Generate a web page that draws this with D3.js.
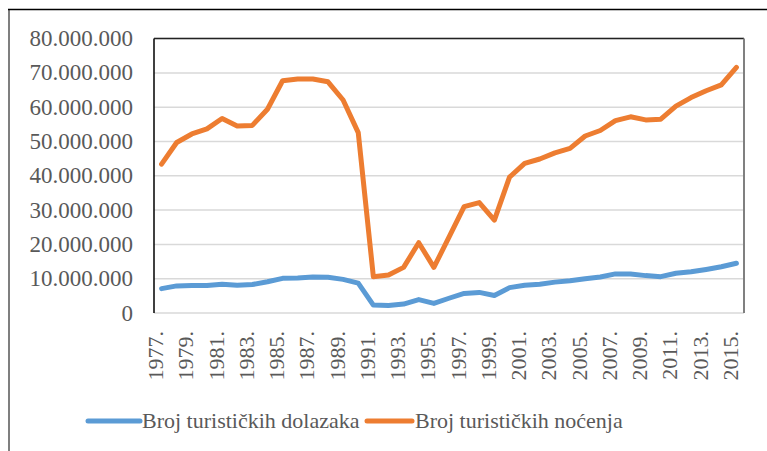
<!DOCTYPE html>
<meta charset="utf-8">
<body style="margin:0">
<script src="https://cdn.jsdelivr.net/npm/d3@7"></script>
<script>

var width = 767,
    height = 451;

var serif = "'Liberation Serif'";

var years = d3.range(1977, 2016).map(function(y) { return y + "."; });

var dolasci = [7.1, 7.9, 8.0, 8.0, 8.4, 8.1, 8.3, 9.1, 10.1, 10.2,
  10.5, 10.4, 9.8, 8.7, 2.3, 2.2, 2.6, 3.9, 2.8, 4.3,
  5.7, 6.0, 5.1, 7.4, 8.1, 8.4, 9.0, 9.4, 10.0, 10.5,
  11.4, 11.4, 10.9, 10.6, 11.6, 12.0, 12.7, 13.5, 14.5];

var nocenja = [43.4, 49.7, 52.2, 53.7, 56.7, 54.5, 54.7, 59.4, 67.7, 68.2,
  68.2, 67.4, 62.1, 52.6, 10.6, 11.1, 13.3, 20.5, 13.3, 22.1,
  31.0, 32.2, 27.1, 39.6, 43.6, 44.9, 46.7, 48.0, 51.6, 53.2,
  56.1, 57.2, 56.3, 56.5, 60.3, 62.8, 64.8, 66.5, 71.6];

var yTicks = [0, 10, 20, 30, 40, 50, 60, 70, 80];

var series = [
  {name: "Broj turističkih dolazaka", color: "#5b9bd5", values: dolasci},
  {name: "Broj turističkih noćenja", color: "#ed7d31", values: nocenja}
];

var plot = {left: 154, top: 38.6, right: 744, bottom: 313};

var x = d3.scaleBand()
    .domain(years)
    .range([plot.left, plot.right]);

var y = d3.scaleLinear()
    .domain([0, 80])
    .range([plot.bottom, plot.top]);

function fmt(v) {
  return d3.format(",")(v * 1000000).replace(/,/g, ".");
}

var svg = d3.select("body").append("svg")
    .attr("width", width)
    .attr("height", height);

// outer frame, only left and top edges show
svg.append("line")
    .attr("x1", 9).attr("x2", 9).attr("y1", 9).attr("y2", height)
    .style("stroke", "#7f7f7f").style("stroke-width", 2);
svg.append("line")
    .attr("x1", 8).attr("x2", width).attr("y1", 9.5).attr("y2", 9.5)
    .style("stroke", "#000").style("stroke-width", 1.5);

svg.append("g")
  .selectAll("line")
    .data(yTicks)
  .enter().append("line")
    .attr("x1", plot.left)
    .attr("x2", plot.right)
    .attr("y1", function(d) { return y(d); })
    .attr("y2", function(d) { return y(d); })
    .style("stroke", "#d9d9d9")
    .style("stroke-width", 1.5);

// plot frame
svg.append("line")
    .attr("x1", plot.left).attr("x2", plot.left)
    .attr("y1", plot.top).attr("y2", plot.bottom)
    .style("stroke", "#000").style("stroke-width", 1.5);
svg.append("line")
    .attr("x1", plot.left).attr("x2", plot.right)
    .attr("y1", plot.top).attr("y2", plot.top)
    .style("stroke", "#222").style("stroke-width", 1.5);
svg.append("line")
    .attr("x1", plot.right).attr("x2", plot.right)
    .attr("y1", plot.top).attr("y2", plot.bottom)
    .style("stroke", "#808080").style("stroke-width", 2);

svg.append("g")
  .selectAll("text")
    .data(yTicks)
  .enter().append("text")
    .attr("x", 133)
    .attr("y", function(d) { return y(d) + 7.5; })
    .attr("text-anchor", "end")
    .style("font-family", serif)
    .style("font-size", "23px")
    .style("fill", "#595959")
    .text(function(d) { return fmt(d); });

svg.append("g")
  .selectAll("text")
    .data(years.filter(function(d, i) { return i % 2 === 0; }))
  .enter().append("text")
    .attr("transform", function(d) {
      return "translate(" + (x(d) + x.bandwidth() / 2 + 1.5) + ",331) rotate(-90)";
    })
    .attr("text-anchor", "end")
    .style("font-family", serif)
    .style("font-size", "22px")
    .style("fill", "#595959")
    .text(function(d) { return d; });

var line = d3.line()
    .x(function(d, i) { return x(years[i]) + x.bandwidth() / 2; })
    .y(function(d) { return y(d); });

svg.selectAll("path.series")
    .data(series)
  .enter().append("path")
    .attr("class", "series")
    .attr("d", function(d) { return line(d.values); })
    .style("fill", "none")
    .style("stroke", function(d) { return d.color; })
    .style("stroke-width", 5)
    .style("stroke-linejoin", "round")
    .style("stroke-linecap", "round");

var legend = svg.append("g")
  .selectAll("g")
    .data(series)
  .enter().append("g")
    .attr("transform", function(d, i) { return "translate(" + (i ? 367 : 88) + ",421)"; });

legend.append("line")
    .attr("x1", 0).attr("x2", function(d, i) { return i ? 45 : 52; })
    .style("stroke", function(d) { return d.color; })
    .style("stroke-width", 5)
    .style("stroke-linecap", "round");

legend.append("text")
    .attr("x", function(d, i) { return i ? 48 : 54; })
    .attr("y", 7)
    .style("font-family", serif)
    .style("font-size", "22px")
    .style("fill", "#595959")
    .text(function(d) { return d.name; });

</script>
